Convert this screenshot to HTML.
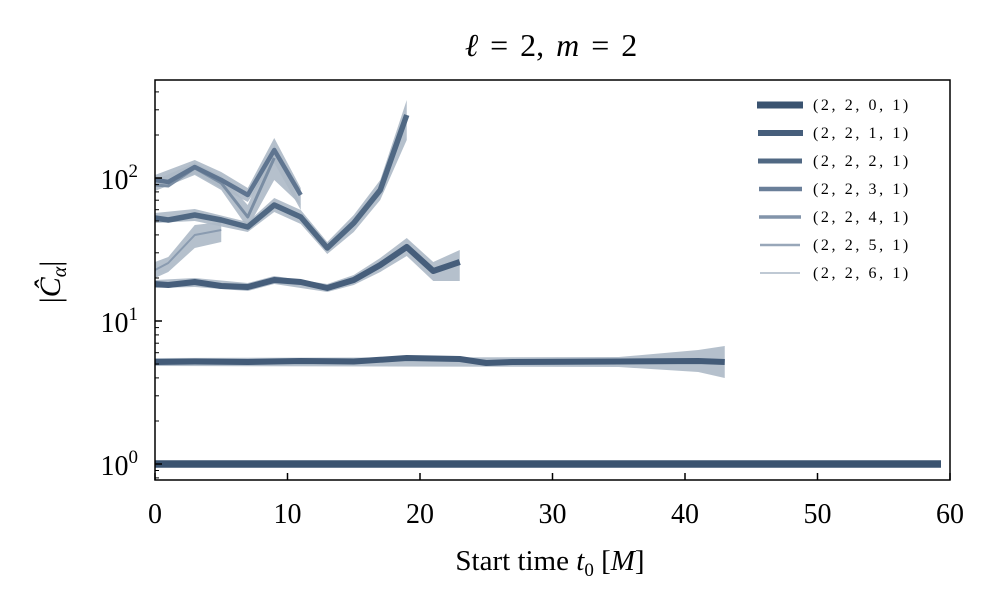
<!DOCTYPE html>
<html><head><meta charset="utf-8"><style>
html,body{margin:0;padding:0;background:#fff;}
svg{display:block;font-family:"Liberation Serif",serif;}
</style></head><body>
<svg width="1000" height="610" viewBox="0 0 1000 610" xmlns="http://www.w3.org/2000/svg">
<rect width="1000" height="610" fill="#fff"/>
<text x="551" y="56" font-size="32" text-anchor="middle" word-spacing="4"><tspan font-style="italic">ℓ</tspan> = 2, <tspan font-style="italic">m</tspan> = 2</text>
<g fill="#adb9c6" fill-opacity="0.9">
<polygon points="155,358 618.75,357 698.25,350 724.75,346 724.75,378 698.25,372 618.75,367 155,366"/>
<polygon points="155,280 194.75,278 247.75,283 274.25,276 327.25,284 353.75,275 380.25,258 406.75,238 433.25,262 459.75,250 459.75,281 433.25,281 406.75,256 380.25,272 353.75,285 327.25,292 274.25,284 247.75,291 194.75,287 155,288"/>
<polygon points="155,213 194.75,209 247.75,222 274.25,198 300.75,210 327.25,242 353.75,215 380.25,180 406.75,100 406.75,140 380.25,200 353.75,232 327.25,254 300.75,224 274.25,212 247.75,232 194.75,221 155,223"/>
<polygon points="155,175 194.75,160 221.25,172 247.75,188 274.25,138 300.75,188 300.75,210 274.25,163 247.75,202 221.25,188 194.75,174 155,186"/>
<polygon points="155,180 194.75,163 221.25,176 247.75,205 274.25,145 300.75,205 274.25,180 247.75,228 221.25,190 194.75,175 155,191"/>
<polygon points="155,262 168.25,257 194.75,225 221.25,222 221.25,242 194.75,248 168.25,272 155,278"/>
</g>
<g fill="none" stroke-linejoin="round">
<polyline stroke="#8a9bb0" stroke-width="2" points="155,270 168.25,263 194.75,235 221.25,230"/>
<polyline stroke="#7a8da3" stroke-width="3" points="155,185 168.25,186 194.75,168 221.25,183 247.75,217 274.25,158"/>
<polyline stroke="#5f7590" stroke-width="4.5" points="155,180 168.25,182 194.75,167 221.25,180 247.75,195 274.25,150 300.75,195"/>
<polyline stroke="#506883" stroke-width="5.5" points="155,218 168.25,220 194.75,215 221.25,220 247.75,227 274.25,205 300.75,217 327.25,248 353.75,223 380.25,190 406.75,115"/>
<polyline stroke="#465e7b" stroke-width="6" points="155,284 168.25,285 194.75,282 221.25,286 247.75,287 274.25,280 300.75,282 327.25,288 353.75,280 380.25,265 406.75,247 433.25,271 459.75,262"/>
<polyline stroke="#435b78" stroke-width="6" points="155,362 194.75,361.5 247.75,362 300.75,361 353.75,361.5 406.75,358 459.75,359 486.25,363 512.75,362 618.75,361.5 698.25,361 724.75,362"/>
<line stroke="#3a5370" stroke-width="7.5" x1="155" y1="464" x2="941" y2="464"/>
</g>
<g font-size="16" letter-spacing="2.6">
<line x1="757" y1="105" x2="803" y2="105" stroke="#3a5370" stroke-width="7"/><text x="813" y="110">(2, 2, 0, 1)</text>
<line x1="758" y1="133" x2="803" y2="133" stroke="#465e7b" stroke-width="6"/><text x="813" y="138">(2, 2, 1, 1)</text>
<line x1="758" y1="161" x2="802" y2="161" stroke="#506883" stroke-width="5"/><text x="813" y="166">(2, 2, 2, 1)</text>
<line x1="759" y1="189" x2="802" y2="189" stroke="#6a7f99" stroke-width="4.5"/><text x="813" y="194">(2, 2, 3, 1)</text>
<line x1="759" y1="217" x2="801" y2="217" stroke="#8294aa" stroke-width="3.5"/><text x="813" y="222">(2, 2, 4, 1)</text>
<line x1="760" y1="245" x2="800" y2="245" stroke="#98a7b9" stroke-width="2.5"/><text x="813" y="250">(2, 2, 5, 1)</text>
<line x1="760" y1="273" x2="800" y2="273" stroke="#aab7c5" stroke-width="1.5"/><text x="813" y="278">(2, 2, 6, 1)</text>
</g>
<rect x="155" y="80" width="795" height="400" fill="none" stroke="#000" stroke-width="1.5"/>
<g stroke="#000" stroke-width="1.5">
<line x1="155" y1="464" x2="162" y2="464"/><line x1="155" y1="321" x2="162" y2="321"/><line x1="155" y1="178" x2="162" y2="178"/>
</g>
<g stroke="#000" stroke-width="1">
<line x1="155" y1="477.9" x2="159" y2="477.9"/><line x1="155" y1="470.5" x2="159" y2="470.5"/>
<line x1="155" y1="421" x2="159" y2="421"/><line x1="155" y1="395.8" x2="159" y2="395.8"/><line x1="155" y1="377.9" x2="159" y2="377.9"/><line x1="155" y1="364" x2="159" y2="364"/><line x1="155" y1="352.7" x2="159" y2="352.7"/><line x1="155" y1="343.2" x2="159" y2="343.2"/><line x1="155" y1="334.9" x2="159" y2="334.9"/><line x1="155" y1="327.6" x2="159" y2="327.6"/>
<line x1="155" y1="278" x2="159" y2="278"/><line x1="155" y1="252.8" x2="159" y2="252.8"/><line x1="155" y1="234.9" x2="159" y2="234.9"/><line x1="155" y1="221" x2="159" y2="221"/><line x1="155" y1="209.7" x2="159" y2="209.7"/><line x1="155" y1="200.2" x2="159" y2="200.2"/><line x1="155" y1="191.9" x2="159" y2="191.9"/><line x1="155" y1="184.6" x2="159" y2="184.6"/>
<line x1="155" y1="135" x2="159" y2="135"/><line x1="155" y1="109.8" x2="159" y2="109.8"/><line x1="155" y1="91.9" x2="159" y2="91.9"/>
</g>
<g stroke="#000" stroke-width="1.5">
<line x1="155" y1="480" x2="155" y2="473"/><line x1="287.5" y1="480" x2="287.5" y2="473"/><line x1="420" y1="480" x2="420" y2="473"/><line x1="552.5" y1="480" x2="552.5" y2="473"/><line x1="685" y1="480" x2="685" y2="473"/><line x1="817.5" y1="480" x2="817.5" y2="473"/><line x1="950" y1="480" x2="950" y2="473"/>
</g>
<g font-size="28" text-anchor="middle">
<text x="155" y="523">0</text><text x="287.5" y="523">10</text><text x="420" y="523">20</text><text x="552.5" y="523">30</text><text x="685" y="523">40</text><text x="817.5" y="523">50</text><text x="950" y="523">60</text>
</g>
<g font-size="28" text-anchor="end">
<text x="138" y="475">10<tspan font-size="19" dy="-12">0</tspan></text>
<text x="138" y="332">10<tspan font-size="19" dy="-12">1</tspan></text>
<text x="138" y="189">10<tspan font-size="19" dy="-12">2</tspan></text>
</g>
<text x="550" y="570" font-size="29" text-anchor="middle">Start time <tspan font-style="italic">t</tspan><tspan font-size="19" dy="6">0</tspan><tspan dy="-6"> [</tspan><tspan font-style="italic">M</tspan>]</text>
<text transform="translate(60,282) rotate(-90)" font-size="30" text-anchor="middle">|<tspan font-style="italic">Ĉ</tspan><tspan font-size="20" dy="6" font-style="italic">α</tspan><tspan dy="-6">|</tspan></text>
</svg>
</body></html>
